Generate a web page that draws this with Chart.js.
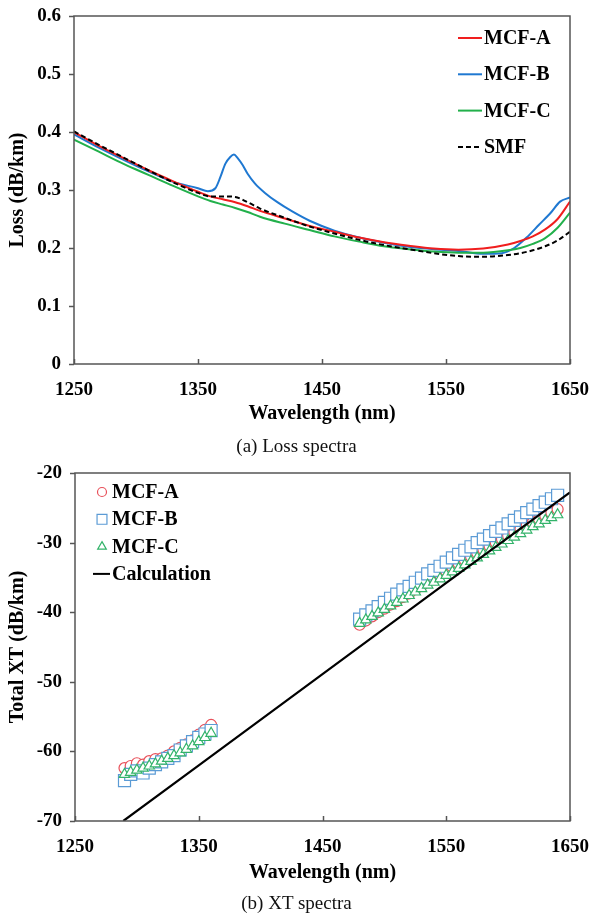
<!DOCTYPE html>
<html>
<head>
<meta charset="utf-8">
<title>Loss and XT spectra</title>
<script src="https://cdn.jsdelivr.net/npm/chart.js@4.4.1/dist/chart.umd.min.js"></script>
<style>
  body { margin: 0; width: 593px; height: 914px; background: #fff; position: relative; overflow: hidden; font-family: "Liberation Serif", serif; }
  .box { position: absolute; left: 0; width: 593px; }
  #lossBox { top: 0; height: 430px; }
  #xtBox { top: 455px; height: 440px; }
  .caption { position: absolute; left: 0; width: 593px; text-align: center; font-size: 19px; line-height: 20px; color: #111; z-index: 2; }
</style>
</head>
<body>
<div class="box" id="lossBox"><canvas id="lossChart"></canvas></div>
<div class="caption" style="top:436px">(a) Loss spectra</div>
<div class="box" id="xtBox"><canvas id="xtChart"></canvas></div>
<div class="caption" style="top:893px">(b) XT spectra</div>
<script>
// (a) loss spectra, dB/km
const lossWl = [1250, 1270, 1290, 1310, 1330, 1350, 1360, 1370, 1380, 1390, 1400, 1420, 1440, 1460, 1480, 1500, 1520, 1540, 1560, 1580, 1600, 1610, 1620, 1630, 1640, 1650];
const lossA = [0.400, 0.376, 0.355, 0.334, 0.315, 0.297, 0.289, 0.284, 0.279, 0.272, 0.264, 0.251, 0.238, 0.228, 0.218, 0.210, 0.204, 0.199, 0.197, 0.199, 0.206, 0.212, 0.220, 0.232, 0.250, 0.280];
const lossC = [0.387, 0.366, 0.345, 0.326, 0.307, 0.289, 0.281, 0.275, 0.269, 0.262, 0.254, 0.242, 0.231, 0.220, 0.211, 0.203, 0.198, 0.194, 0.192, 0.192, 0.196, 0.200, 0.207, 0.217, 0.235, 0.261];
const lossSmf = [0.401, 0.378, 0.356, 0.334, 0.313, 0.295, 0.289, 0.289, 0.288, 0.279, 0.268, 0.252, 0.237, 0.225, 0.214, 0.205, 0.198, 0.191, 0.186, 0.185, 0.188, 0.191, 0.196, 0.203, 0.213, 0.228];
// MCF-B has the OH peak, so it gets its own sample points
const lossWlB = [1250, 1270, 1290, 1310, 1330, 1350, 1358, 1364, 1368, 1372, 1376, 1379, 1382, 1386, 1390, 1396, 1404, 1414, 1426, 1440, 1460, 1480, 1500, 1520, 1540, 1560, 1580, 1595, 1605, 1615, 1625, 1635, 1642, 1650];
const lossB = [0.396, 0.373, 0.352, 0.332, 0.314, 0.303, 0.298, 0.303, 0.322, 0.345, 0.357, 0.361, 0.355, 0.343, 0.328, 0.311, 0.295, 0.279, 0.263, 0.247, 0.230, 0.218, 0.209, 0.202, 0.198, 0.195, 0.190, 0.191, 0.200, 0.218, 0.240, 0.262, 0.280, 0.287];

// (b) total XT, dB/km
const xtWlShort = [1290, 1295, 1300, 1305, 1310, 1315, 1320, 1325, 1330, 1335, 1340, 1345, 1350, 1355, 1360];
const xtWlLong = [1480, 1485, 1490, 1495, 1500, 1505, 1510, 1515, 1520, 1525, 1530, 1535, 1540, 1545, 1550, 1555, 1560, 1565, 1570, 1575, 1580, 1585, 1590, 1595, 1600, 1605, 1610, 1615, 1620, 1625, 1630, 1635, 1640];
const xtAShort = [-62.4, -62.1, -61.7, -61.9, -61.4, -61.1, -61.0, -60.6, -60.0, -59.5, -59.0, -58.4, -57.6, -56.9, -56.2];
const xtBShort = [-64.2, -63.3, -62.8, -63.1, -62.4, -61.9, -61.5, -61.0, -60.6, -59.8, -59.2, -58.6, -58.0, -57.5, -57.0];
const xtCShort = [-63.3, -63.0, -62.7, -62.4, -62.1, -61.8, -61.4, -61.0, -60.6, -60.2, -59.7, -59.2, -58.6, -58.0, -57.4];
const xtALong = [-41.8, -41.2, -40.6, -40.0, -39.5, -38.9, -38.4, -37.8, -37.3, -36.7, -36.2, -35.6, -35.1, -34.6, -34.1, -33.5, -33.0, -32.5, -32.0, -31.5, -31.0, -30.5, -30.0, -29.5, -29.0, -28.5, -28.0, -27.5, -27.1, -26.6, -26.1, -25.7, -25.2];
const xtBLong = [-41.0, -40.4, -39.8, -39.2, -38.6, -38.0, -37.4, -36.8, -36.3, -35.7, -35.1, -34.5, -34.0, -33.4, -32.8, -32.2, -31.7, -31.1, -30.6, -30.0, -29.5, -29.0, -28.4, -27.9, -27.3, -26.8, -26.3, -25.7, -25.2, -24.7, -24.2, -23.7, -23.2];
const xtCLong = [-41.6, -41.1, -40.6, -40.1, -39.6, -39.1, -38.6, -38.1, -37.6, -37.1, -36.6, -36.1, -35.7, -35.2, -34.7, -34.2, -33.7, -33.2, -32.7, -32.2, -31.7, -31.2, -30.7, -30.2, -29.7, -29.2, -28.7, -28.2, -27.7, -27.3, -26.8, -26.4, -26.0];
const calcWl = [1289, 1350, 1450, 1550, 1650];
const calcXt = [-70.0, -62.0, -48.9, -35.8, -22.8];

const FONT = '"Liberation Serif", "Times New Roman", serif';
const toPts = (xs, ys) => xs.map((x, i) => ({ x, y: ys[i] }));

// frame around the plot area + short tick marks (y outside, x inside)
const frameTicks = {
  id: 'frameTicks',
  afterDatasetsDraw(chart) {
    const { ctx, chartArea: a, scales } = chart;
    ctx.save();
    ctx.strokeStyle = '#555';
    ctx.lineWidth = 1.5;
    scales.x.ticks.forEach(t => {
      const px = Math.round(scales.x.getPixelForValue(t.value)) + 0.5;
      ctx.beginPath(); ctx.moveTo(px, a.bottom); ctx.lineTo(px, a.bottom - 5); ctx.stroke();
    });
    scales.y.ticks.forEach(t => {
      const py = Math.round(scales.y.getPixelForValue(t.value)) + 0.5;
      ctx.beginPath(); ctx.moveTo(a.left, py); ctx.lineTo(a.left - 5, py); ctx.stroke();
    });
    ctx.strokeRect(a.left, a.top, a.right - a.left, a.bottom - a.top);
    ctx.restore();
  }
};

// legend drawn inside the plot, one row per dataset
const insideLegend = {
  id: 'insideLegend',
  afterDraw(chart, args, opts) {
    const ctx = chart.ctx;
    ctx.save();
    ctx.font = 'bold 20px ' + FONT;
    ctx.textBaseline = 'middle';
    chart.data.datasets.forEach((ds, i) => {
      const y = opts.top + i * opts.gap;
      if (ds.showLine === false) {
        ctx.strokeStyle = ds.borderColor;
        ctx.fillStyle = '#fff';
        ctx.lineWidth = 1.2;
        Chart.helpers.drawPoint(ctx, { pointStyle: ds.pointStyle, radius: opts.markerRadius[ds.pointStyle], borderWidth: 1.2, rotation: 0 }, opts.markerX, y);
      } else {
        ctx.strokeStyle = ds.borderColor;
        ctx.lineWidth = 2;
        ctx.setLineDash(ds.borderDash || []);
        ctx.beginPath(); ctx.moveTo(opts.lineX0, y); ctx.lineTo(opts.lineX1, y); ctx.stroke();
        ctx.setLineDash([]);
      }
      ctx.fillStyle = '#000';
      ctx.fillText(ds.label, opts.textX, y + 1);
    });
    ctx.restore();
  }
};

const tickFont = { family: FONT, size: 19, weight: 'bold' };
const titleFont = { family: FONT, size: 20, weight: 'bold' };

function axes(yMin, yMax, yStep, yTitle, yWidth, xHeight, xTitlePad, yFmt) {
  return {
    x: {
      type: 'linear', min: 1250, max: 1650,
      grid: { display: false, drawTicks: false }, border: { display: false },
      ticks: { stepSize: 100, padding: 15, color: '#000', font: tickFont, callback: v => String(v) },
      title: { display: true, text: 'Wavelength (nm)', color: '#000', font: titleFont, padding: { top: xTitlePad, bottom: xTitlePad } },
      // fixed box, no extra room for overhanging end labels
      afterFit: s => { s.height = xHeight; s.paddingLeft = 0; s.paddingRight = 0; }
    },
    y: {
      min: yMin, max: yMax,
      grid: { display: false, drawTicks: false }, border: { display: false },
      ticks: { stepSize: yStep, padding: 13, color: '#000', font: tickFont, callback: yFmt },
      title: { display: true, text: yTitle, color: '#000', font: titleFont, padding: { top: 6, bottom: 6 } },
      afterFit: s => { s.width = yWidth; s.paddingTop = 0; s.paddingBottom = 0; }
    }
  };
}

const lineSet = (label, xs, ys, color, dash, order) => ({
  label, data: toPts(xs, ys), showLine: true, borderColor: color, borderWidth: 2,
  borderDash: dash, pointRadius: 0, cubicInterpolationMode: 'monotone', order
});

new Chart(document.getElementById('lossChart'), {
  type: 'scatter',
  data: {
    datasets: [
      lineSet('MCF-A', lossWl, lossA, '#f01e1e', [], 3),
      lineSet('MCF-B', lossWlB, lossB, '#1f78d1', [], 4),
      lineSet('MCF-C', lossWl, lossC, '#22b04b', [], 2),
      lineSet('SMF', lossWl, lossSmf, '#000', [5, 3], 1)
    ]
  },
  options: {
    responsive: true, maintainAspectRatio: false, animation: false,
    layout: { padding: { top: 16, right: 23, left: 0, bottom: 0 } },
    scales: axes(0, 0.6, 0.1, 'Loss (dB/km)', 74, 66, 4, v => String(Number(v.toFixed(1)))),
    plugins: {
      legend: { display: false }, tooltip: { enabled: false },
      insideLegend: { top: 38, gap: 36.3, lineX0: 458, lineX1: 482, textX: 484, markerX: 0, markerRadius: {} }
    }
  },
  plugins: [frameTicks, insideLegend]
});

const markerSet = (label, ys1, ys2, color, style, radius, order) => ({
  label, data: toPts(xtWlShort, ys1).concat(toPts(xtWlLong, ys2)), showLine: false,
  pointStyle: style, pointRadius: radius, pointBorderWidth: 1.2,
  borderColor: color, pointBorderColor: color, pointBackgroundColor: '#fff', order
});

new Chart(document.getElementById('xtChart'), {
  type: 'scatter',
  data: {
    datasets: [
      markerSet('MCF-A', xtAShort, xtALong, '#e8505a', 'circle', 5.5, 4),
      markerSet('MCF-B', xtBShort, xtBLong, '#5b9bd5', 'rect', 8.5, 3),
      markerSet('MCF-C', xtCShort, xtCLong, '#33b36a', 'triangle', 6, 2),
      { label: 'Calculation', data: toPts(calcWl, calcXt), showLine: true, borderColor: '#000', borderWidth: 2.2, pointRadius: 0, order: 1 }
    ]
  },
  options: {
    responsive: true, maintainAspectRatio: false, animation: false,
    layout: { padding: { top: 18, right: 23, left: 0, bottom: 0 } },
    scales: axes(-70, -20, 10, 'Total XT (dB/km)', 75, 74, 10, v => String(v)),
    plugins: {
      legend: { display: false }, tooltip: { enabled: false },
      insideLegend: { top: 37, gap: 27.3, lineX0: 93, lineX1: 110, textX: 112, markerX: 102, markerRadius: { circle: 4.5, rect: 7, triangle: 5 } }
    }
  },
  plugins: [frameTicks, insideLegend]
});
</script>
</body>
</html>
